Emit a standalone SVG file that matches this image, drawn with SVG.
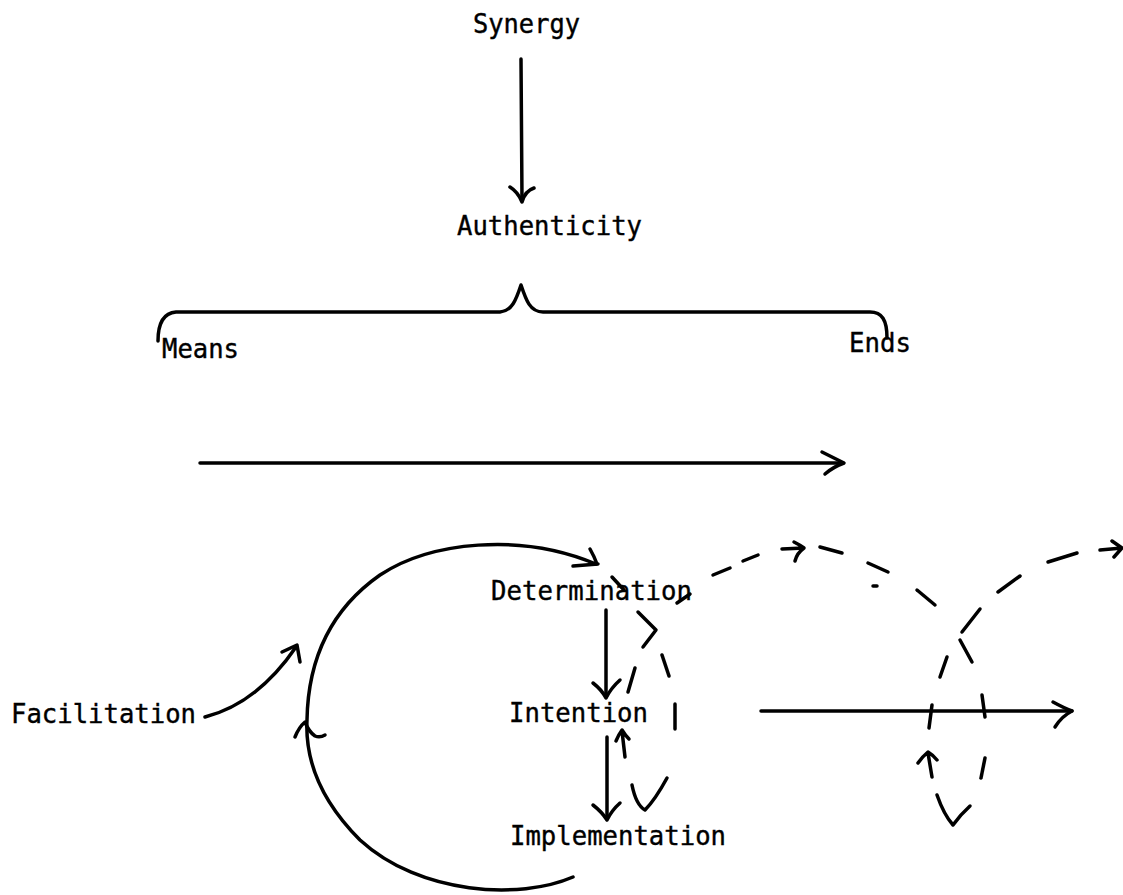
<svg xmlns="http://www.w3.org/2000/svg" width="1123" height="895" viewBox="0 0 1123 895">
  <style>
    .lbl { font-family: "DejaVu Sans Mono", "Liberation Mono", monospace; font-size: 26.5px; fill: #000; stroke: #000; stroke-width: 0.4; }
    .ln { fill: none; stroke: #000; stroke-width: 3.5; stroke-linecap: round; stroke-linejoin: round; }
  </style>
  <rect width="1123" height="895" fill="#fff"/>

  <!-- labels (typewriter pitch of about 15.4px per character) -->
  <g id="synergy"><text class="lbl" x="473" y="33" textLength="107" lengthAdjust="spacingAndGlyphs">Synergy</text></g>
  <g id="authenticity"><text class="lbl" x="457" y="235" textLength="185" lengthAdjust="spacingAndGlyphs">Authenticity</text></g>
  <g id="means"><text class="lbl" x="162" y="358" textLength="77" lengthAdjust="spacingAndGlyphs">Means</text></g>
  <g id="ends"><text class="lbl" x="849" y="352" textLength="62" lengthAdjust="spacingAndGlyphs">Ends</text></g>
  <g id="determination"><text class="lbl" x="491" y="600" textLength="201" lengthAdjust="spacingAndGlyphs">Determination</text></g>
  <g id="intention"><text class="lbl" x="509" y="722" textLength="139" lengthAdjust="spacingAndGlyphs">Intention</text></g>
  <g id="implementation"><text class="lbl" x="510" y="845" textLength="216" lengthAdjust="spacingAndGlyphs">Implementation</text></g>
  <g id="facilitation"><text class="lbl" x="11" y="723" textLength="185" lengthAdjust="spacingAndGlyphs">Facilitation</text></g>

  <g id="connectors">
    <!-- Synergy down to Authenticity -->
    <path class="ln" d="M521,59 L522,200"/>
    <path class="ln" d="M510,187 Q518,192 522,202 Q525,191 534,188"/>

    <!-- brace spanning Means to Ends -->
    <path class="ln" d="M158,341 C158,324 163,313 176,312 L500,312 C512,311 516,300 521,285 C526,300 530,312 543,312 L870,312 C882,312 887,320 887,338"/>

    <!-- means-to-ends arrow -->
    <path class="ln" d="M200,463 L843,463"/>
    <path class="ln" d="M822,452 Q836,459 844,463 Q833,467 825,474"/>

    <!-- cycle loop -->
    <path class="ln" d="M573,877 C520,900 420,895 360,840 C320,800 305,760 307,720 C308,660 330,610 380,575 C430,542 520,532 596,564"/>
    <path class="ln" d="M573,566 L598,564 M590,549 Q594,556 597,564"/>
    <path class="ln" d="M295,737 Q299,727 305,722 Q309,732 315,736 Q320,738 325,735"/>

    <!-- Facilitation into the loop -->
    <path class="ln" d="M205,717 C240,708 270,685 296,647"/>
    <path class="ln" d="M282,652 L297,645 L300,662"/>

    <!-- Determination / Intention / Implementation -->
    <path class="ln" d="M606,610 L606,697"/>
    <path class="ln" d="M593,683 Q602,690 606,698 Q611,688 620,680"/>
    <path class="ln" d="M607,737 L607,818"/>
    <path class="ln" d="M593,805 Q602,812 607,820 Q612,810 620,803"/>

    <!-- first dashed coil -->
    <path class="ln" d="M612,577 L624,590"/>
    <path class="ln" d="M638,612 L656,630 L643,647"/>
    <path class="ln" d="M635,668 L628,692"/>
    <path class="ln" d="M625,757 L622,731 M616,741 Q619,734 622,730 Q625,735 629,739"/>
    <path class="ln" d="M632,785 Q636,805 645,810 Q655,800 667,778"/>
    <path class="ln" d="M675,704 L675,729"/>
    <path class="ln" d="M662,655 L669,676"/>
    <path class="ln" d="M677,603 L690,594"/>
    <path class="ln" d="M713,575 L730,568"/>
    <path class="ln" d="M743,561 L758,555"/>
    <path class="ln" d="M782,549 L804,548 M794,542 Q800,545 804,548 Q797,553 795,561"/>
    <path class="ln" d="M820,547 L842,553"/>
    <path class="ln" d="M868,563 L888,572"/>
    <path class="ln" stroke-width="2" d="M873,586 L877,586"/>
    <path class="ln" d="M917,590 L935,605"/>

    <!-- second dashed coil -->
    <path class="ln" d="M962,632 L980,609"/>
    <path class="ln" d="M960,640 L972,662"/>
    <path class="ln" d="M947,657 L940,677"/>
    <path class="ln" d="M932,705 L929,728"/>
    <path class="ln" d="M982,695 L985,717"/>
    <path class="ln" d="M932,777 L928,753 M918,763 Q922,757 928,752 Q933,755 937,760"/>
    <path class="ln" d="M985,758 L981,778"/>
    <path class="ln" d="M937,795 Q944,815 953,825 Q960,815 970,806"/>
    <path class="ln" d="M998,592 L1020,576"/>
    <path class="ln" d="M1048,562 L1077,553"/>
    <path class="ln" d="M1100,550 L1122,548 M1112,541 L1122,548 L1114,557"/>

    <!-- onward arrow -->
    <path class="ln" d="M761,711 L1072,711"/>
    <path class="ln" d="M1053,702 Q1064,708 1072,711 Q1062,716 1055,727"/>
  </g>
</svg>
